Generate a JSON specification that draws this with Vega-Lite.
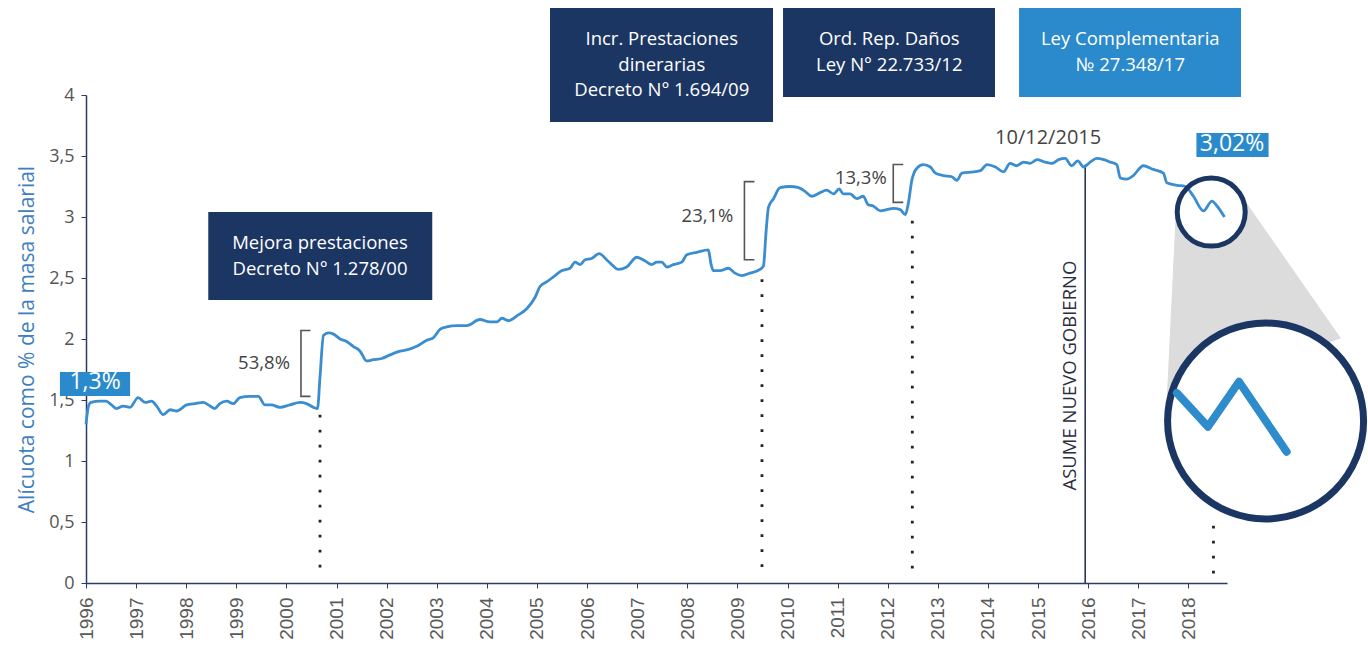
{
  "$schema": "https://vega.github.io/schema/vega-lite/v6.json",
  "width": 1141,
  "height": 488,
  "autosize": {"type": "none"},
  "padding": {"left": 86, "top": 95, "right": 141, "bottom": 70},
  "background": "white",
  "config": {
    "view": {"stroke": null},
    "font": "Open Sans",
    "text": {"font": "Open Sans"}
  },
  "datasets": {
    "serie": [
      {"t": 1996.00, "v": 1.30}, {"t": 1996.05, "v": 1.45}, {"t": 1996.10, "v": 1.48}, {"t": 1996.28, "v": 1.49},
      {"t": 1996.40, "v": 1.49}, {"t": 1996.51, "v": 1.46}, {"t": 1996.61, "v": 1.43}, {"t": 1996.74, "v": 1.45},
      {"t": 1996.88, "v": 1.44}, {"t": 1997.04, "v": 1.52}, {"t": 1997.18, "v": 1.48}, {"t": 1997.31, "v": 1.49},
      {"t": 1997.41, "v": 1.45}, {"t": 1997.54, "v": 1.38}, {"t": 1997.68, "v": 1.42}, {"t": 1997.81, "v": 1.41},
      {"t": 1998.01, "v": 1.46}, {"t": 1998.17, "v": 1.47}, {"t": 1998.34, "v": 1.48}, {"t": 1998.44, "v": 1.46},
      {"t": 1998.57, "v": 1.43}, {"t": 1998.67, "v": 1.47}, {"t": 1998.81, "v": 1.49}, {"t": 1998.94, "v": 1.47},
      {"t": 1999.07, "v": 1.52}, {"t": 1999.27, "v": 1.53}, {"t": 1999.44, "v": 1.53}, {"t": 1999.57, "v": 1.46},
      {"t": 1999.70, "v": 1.46}, {"t": 1999.87, "v": 1.44}, {"t": 2000.07, "v": 1.46}, {"t": 2000.27, "v": 1.48},
      {"t": 2000.40, "v": 1.47}, {"t": 2000.54, "v": 1.44}, {"t": 2000.62, "v": 1.43}, {"t": 2000.67, "v": 1.69},
      {"t": 2000.74, "v": 2.03}, {"t": 2000.84, "v": 2.05}, {"t": 2000.94, "v": 2.04}, {"t": 2001.07, "v": 2.00},
      {"t": 2001.20, "v": 1.98}, {"t": 2001.33, "v": 1.94}, {"t": 2001.47, "v": 1.90}, {"t": 2001.60, "v": 1.82},
      {"t": 2001.73, "v": 1.83}, {"t": 2001.90, "v": 1.84}, {"t": 2002.07, "v": 1.87}, {"t": 2002.27, "v": 1.90},
      {"t": 2002.40, "v": 1.91}, {"t": 2002.60, "v": 1.94}, {"t": 2002.80, "v": 1.99}, {"t": 2002.93, "v": 2.01},
      {"t": 2003.07, "v": 2.08}, {"t": 2003.20, "v": 2.10}, {"t": 2003.40, "v": 2.11}, {"t": 2003.60, "v": 2.11},
      {"t": 2003.86, "v": 2.16}, {"t": 2004.06, "v": 2.14}, {"t": 2004.20, "v": 2.14}, {"t": 2004.30, "v": 2.17},
      {"t": 2004.43, "v": 2.15}, {"t": 2004.60, "v": 2.19}, {"t": 2004.80, "v": 2.25}, {"t": 2004.96, "v": 2.34},
      {"t": 2005.06, "v": 2.43}, {"t": 2005.20, "v": 2.47}, {"t": 2005.33, "v": 2.51}, {"t": 2005.49, "v": 2.56},
      {"t": 2005.66, "v": 2.58}, {"t": 2005.76, "v": 2.63}, {"t": 2005.86, "v": 2.61}, {"t": 2005.96, "v": 2.65},
      {"t": 2006.09, "v": 2.66}, {"t": 2006.24, "v": 2.70}, {"t": 2006.39, "v": 2.65}, {"t": 2006.52, "v": 2.60},
      {"t": 2006.62, "v": 2.57}, {"t": 2006.79, "v": 2.59}, {"t": 2006.99, "v": 2.67}, {"t": 2007.16, "v": 2.64},
      {"t": 2007.29, "v": 2.61}, {"t": 2007.39, "v": 2.63}, {"t": 2007.49, "v": 2.63}, {"t": 2007.59, "v": 2.59},
      {"t": 2007.72, "v": 2.61}, {"t": 2007.89, "v": 2.63}, {"t": 2007.99, "v": 2.69}, {"t": 2008.19, "v": 2.71},
      {"t": 2008.42, "v": 2.73}, {"t": 2008.47, "v": 2.62}, {"t": 2008.52, "v": 2.56}, {"t": 2008.65, "v": 2.56},
      {"t": 2008.82, "v": 2.58}, {"t": 2008.95, "v": 2.54}, {"t": 2009.09, "v": 2.52}, {"t": 2009.25, "v": 2.54},
      {"t": 2009.45, "v": 2.57}, {"t": 2009.52, "v": 2.60}, {"t": 2009.57, "v": 2.87}, {"t": 2009.62, "v": 3.08},
      {"t": 2009.72, "v": 3.15}, {"t": 2009.85, "v": 3.24}, {"t": 2010.05, "v": 3.25}, {"t": 2010.22, "v": 3.24},
      {"t": 2010.35, "v": 3.21}, {"t": 2010.48, "v": 3.17}, {"t": 2010.65, "v": 3.20}, {"t": 2010.78, "v": 3.22},
      {"t": 2010.92, "v": 3.19}, {"t": 2011.03, "v": 3.23}, {"t": 2011.11, "v": 3.19}, {"t": 2011.25, "v": 3.19},
      {"t": 2011.38, "v": 3.15}, {"t": 2011.51, "v": 3.17}, {"t": 2011.61, "v": 3.10}, {"t": 2011.71, "v": 3.09},
      {"t": 2011.85, "v": 3.05}, {"t": 2011.98, "v": 3.06}, {"t": 2012.11, "v": 3.07}, {"t": 2012.25, "v": 3.06},
      {"t": 2012.35, "v": 3.02}, {"t": 2012.41, "v": 3.11}, {"t": 2012.48, "v": 3.30}, {"t": 2012.58, "v": 3.40},
      {"t": 2012.71, "v": 3.43}, {"t": 2012.85, "v": 3.41}, {"t": 2012.95, "v": 3.36}, {"t": 2013.11, "v": 3.34},
      {"t": 2013.28, "v": 3.33}, {"t": 2013.38, "v": 3.30}, {"t": 2013.48, "v": 3.36}, {"t": 2013.71, "v": 3.37},
      {"t": 2013.85, "v": 3.38}, {"t": 2013.98, "v": 3.43}, {"t": 2014.15, "v": 3.41}, {"t": 2014.31, "v": 3.37},
      {"t": 2014.44, "v": 3.44}, {"t": 2014.57, "v": 3.42}, {"t": 2014.71, "v": 3.45}, {"t": 2014.84, "v": 3.44},
      {"t": 2014.98, "v": 3.47}, {"t": 2015.14, "v": 3.45}, {"t": 2015.28, "v": 3.44}, {"t": 2015.41, "v": 3.47},
      {"t": 2015.54, "v": 3.48}, {"t": 2015.67, "v": 3.42}, {"t": 2015.79, "v": 3.46}, {"t": 2015.91, "v": 3.41},
      {"t": 2016.04, "v": 3.45}, {"t": 2016.17, "v": 3.48}, {"t": 2016.31, "v": 3.47}, {"t": 2016.44, "v": 3.45},
      {"t": 2016.57, "v": 3.43}, {"t": 2016.64, "v": 3.32}, {"t": 2016.77, "v": 3.31}, {"t": 2016.90, "v": 3.34},
      {"t": 2017.10, "v": 3.42}, {"t": 2017.30, "v": 3.39}, {"t": 2017.50, "v": 3.36}, {"t": 2017.57, "v": 3.28},
      {"t": 2017.77, "v": 3.26}, {"t": 2017.94, "v": 3.25}, {"t": 2018.10, "v": 3.17}, {"t": 2018.30, "v": 3.05},
      {"t": 2018.47, "v": 3.13}, {"t": 2018.57, "v": 3.09}, {"t": 2018.72, "v": 3.00}
    ],
    "zoomline": [
      {"t": 2017.77, "v": 1.557}, {"t": 2018.39, "v": 1.281}, {"t": 2019.01, "v": 1.650}, {"t": 2019.96, "v": 1.076}
    ],
    "cone": [
      {"i": 1, "t": 2017.756, "v": 3.016}, {"i": 2, "t": 2017.577, "v": 1.5},
      {"i": 3, "t": 2021.03, "v": 2.008}, {"i": 4, "t": 2019.11, "v": 3.139}
    ],
    "smallcircle": [{"t": 2018.455, "v": 3.04}],
    "bigcircle": [{"t": 2019.54, "v": 1.328}],
    "dotted": [
      {"t": 2000.67, "v": 1.38, "v2": 0.05},
      {"t": 2009.49, "v": 2.49, "v2": 0.05},
      {"t": 2012.49, "v": 2.97, "v2": 0.05},
      {"t": 2018.50, "v": 0.47, "v2": 0.05}
    ],
    "gobierno": [{"t": 2015.94, "v": 0, "v2": 3.43}],
    "brackets": [
      {"g": "a", "i": 1, "t": 2000.48, "v": 2.07}, {"g": "a", "i": 2, "t": 2000.29, "v": 2.07},
      {"g": "a", "i": 3, "t": 2000.29, "v": 1.53}, {"g": "a", "i": 4, "t": 2000.48, "v": 1.53},
      {"g": "b", "i": 1, "t": 2009.34, "v": 3.29}, {"g": "b", "i": 2, "t": 2009.14, "v": 3.29},
      {"g": "b", "i": 3, "t": 2009.14, "v": 2.65}, {"g": "b", "i": 4, "t": 2009.34, "v": 2.65},
      {"g": "c", "i": 1, "t": 2012.31, "v": 3.43}, {"g": "c", "i": 2, "t": 2012.11, "v": 3.43},
      {"g": "c", "i": 3, "t": 2012.11, "v": 3.12}, {"g": "c", "i": 4, "t": 2012.31, "v": 3.12}
    ],
    "navyboxes": [
      {"t": 2005.26, "t2": 2009.71, "v": 4.713, "v2": 3.779},
      {"t": 2009.91, "t2": 2014.14, "v": 4.713, "v2": 3.984},
      {"t": 1998.44, "t2": 2002.91, "v": 3.041, "v2": 2.320}
    ],
    "blueboxes": [
      {"t": 2014.62, "t2": 2019.05, "v": 4.713, "v2": 3.984},
      {"t": 1995.48, "t2": 1996.88, "v": 1.730, "v2": 1.533},
      {"t": 2018.16, "t2": 2019.60, "v": 3.689, "v2": 3.492}
    ],
    "boxtext": [
      {"t": 2007.49, "v": 4.46, "label": "Incr. Prestaciones"},
      {"t": 2007.49, "v": 4.25, "label": "dinerarias"},
      {"t": 2007.49, "v": 4.04, "label": "Decreto N° 1.694/09"},
      {"t": 2012.03, "v": 4.455, "label": "Ord. Rep. Daños"},
      {"t": 2012.03, "v": 4.245, "label": "Ley N° 22.733/12"},
      {"t": 2016.84, "v": 4.455, "label": "Ley Complementaria"},
      {"t": 2016.84, "v": 4.245, "label": "№ 27.348/17"},
      {"t": 2000.67, "v": 2.79, "label": "Mejora prestaciones"},
      {"t": 2000.67, "v": 2.575, "label": "Decreto N° 1.278/00"}
    ],
    "badges": [
      {"t": 1996.18, "v": 1.645, "label": "1,3%"},
      {"t": 2018.87, "v": 3.60, "label": "3,02%"}
    ],
    "pct": [
      {"t": 2000.07, "v": 1.80, "label": "53,8%"},
      {"t": 2008.92, "v": 3.01, "label": "23,1%"},
      {"t": 2011.98, "v": 3.32, "label": "13,3%"}
    ],
    "fecha": [{"t": 2015.2, "v": 3.65, "label": "10/12/2015"}],
    "asume": [{"t": 2015.94, "v": 1.70, "label": "ASUME NUEVO GOBIERNO"}]
  },
  "layer": [
    {
      "data": {"name": "cone"},
      "mark": {"type": "line", "fill": "#dcdcdc", "stroke": "#dcdcdc", "strokeWidth": 1, "interpolate": "linear-closed"},
      "encoding": {
        "x": {"field": "t", "type": "quantitative", "scale": {"domain": [1996, 2018.77], "nice": false, "zero": false},
          "axis": {
            "values": [1996,1997,1998,1999,2000,2001,2002,2003,2004,2005,2006,2007,2008,2009,2010,2011,2012,2013,2014,2015,2016,2017,2018],
            "format": "d", "labelAngle": -90, "title": null, "grid": false,
            "domainColor": "#2b3a67", "domainWidth": 1.5, "tickColor": "#2b3a67", "tickSize": 5,
            "labelFont": "Liberation Sans", "labelFontSize": 19, "labelColor": "#5a5a5a", "labelPadding": 9
          }},
        "y": {"field": "v", "type": "quantitative", "scale": {"domain": [0, 4], "nice": false},
          "axis": {
            "values": [0, 0.5, 1, 1.5, 2, 2.5, 3, 3.5, 4],
            "labelExpr": "replace(format(datum.value, '~g'), '.', ',')",
            "title": "Alícuota como % de la masa salarial", "titleFontSize": 21, "titleFont": "Open Sans",
            "titleFontWeight": "normal", "titleColor": "#3f7fbf", "titlePadding": 11,
            "grid": false, "domainColor": "#2b3a67", "domainWidth": 1.5, "tickColor": "#2b3a67", "tickSize": 5,
            "labelFont": "Open Sans", "labelFontSize": 18, "labelColor": "#555555", "labelPadding": 7
          }},
        "order": {"field": "i", "type": "quantitative"}
      }
    },
    {
      "data": {"name": "smallcircle"},
      "mark": {"type": "point", "shape": "circle", "filled": true, "fill": "white", "opacity": 1, "size": 4624, "strokeWidth": 0},
      "encoding": {"x": {"field": "t", "type": "quantitative"}, "y": {"field": "v", "type": "quantitative"}}
    },
    {
      "data": {"name": "dotted"},
      "mark": {"type": "rule", "color": "#222222", "strokeWidth": 2.8, "strokeDash": [2.8, 12.2]},
      "encoding": {"x": {"field": "t", "type": "quantitative"}, "y": {"field": "v", "type": "quantitative"}, "y2": {"field": "v2"}}
    },
    {
      "data": {"name": "gobierno"},
      "mark": {"type": "rule", "color": "#1c2a4a", "strokeWidth": 1.5},
      "encoding": {"x": {"field": "t", "type": "quantitative"}, "y": {"field": "v", "type": "quantitative"}, "y2": {"field": "v2"}}
    },
    {
      "data": {"name": "brackets"},
      "mark": {"type": "line", "color": "#555555", "strokeWidth": 1.6},
      "encoding": {
        "x": {"field": "t", "type": "quantitative"}, "y": {"field": "v", "type": "quantitative"},
        "detail": {"field": "g"}, "order": {"field": "i", "type": "quantitative"}
      }
    },
    {
      "data": {"name": "serie"},
      "mark": {"type": "line", "color": "#3a8dd0", "strokeWidth": 2.8, "interpolate": "monotone"},
      "encoding": {"x": {"field": "t", "type": "quantitative"}, "y": {"field": "v", "type": "quantitative"}}
    },
    {
      "data": {"name": "smallcircle"},
      "mark": {"type": "point", "shape": "circle", "filled": false, "opacity": 1, "size": 4624, "stroke": "#1c3664", "strokeWidth": 5},
      "encoding": {"x": {"field": "t", "type": "quantitative"}, "y": {"field": "v", "type": "quantitative"}}
    },
    {
      "data": {"name": "bigcircle"},
      "mark": {"type": "point", "shape": "circle", "filled": true, "fill": "white", "opacity": 1, "size": 38416, "stroke": "#1c3664", "strokeWidth": 7},
      "encoding": {"x": {"field": "t", "type": "quantitative"}, "y": {"field": "v", "type": "quantitative"}}
    },
    {
      "data": {"name": "zoomline"},
      "mark": {"type": "line", "color": "#2f8ccc", "strokeWidth": 8, "strokeCap": "round", "strokeJoin": "round"},
      "encoding": {"x": {"field": "t", "type": "quantitative"}, "y": {"field": "v", "type": "quantitative"}}
    },
    {
      "data": {"name": "navyboxes"},
      "mark": {"type": "rect", "color": "#1c3664"},
      "encoding": {"x": {"field": "t", "type": "quantitative"}, "x2": {"field": "t2"}, "y": {"field": "v", "type": "quantitative"}, "y2": {"field": "v2"}}
    },
    {
      "data": {"name": "blueboxes"},
      "mark": {"type": "rect", "color": "#2b8acb"},
      "encoding": {"x": {"field": "t", "type": "quantitative"}, "x2": {"field": "t2"}, "y": {"field": "v", "type": "quantitative"}, "y2": {"field": "v2"}}
    },
    {
      "data": {"name": "boxtext"},
      "mark": {"type": "text", "color": "white", "fontSize": 18.5, "align": "center", "baseline": "middle"},
      "encoding": {"x": {"field": "t", "type": "quantitative"}, "y": {"field": "v", "type": "quantitative"}, "text": {"field": "label"}}
    },
    {
      "data": {"name": "badges"},
      "mark": {"type": "text", "color": "white", "fontSize": 23, "align": "center", "baseline": "middle"},
      "encoding": {"x": {"field": "t", "type": "quantitative"}, "y": {"field": "v", "type": "quantitative"}, "text": {"field": "label"}}
    },
    {
      "data": {"name": "pct"},
      "mark": {"type": "text", "color": "#444444", "fontSize": 18.5, "align": "right", "baseline": "middle"},
      "encoding": {"x": {"field": "t", "type": "quantitative"}, "y": {"field": "v", "type": "quantitative"}, "text": {"field": "label"}}
    },
    {
      "data": {"name": "fecha"},
      "mark": {"type": "text", "color": "#444444", "fontSize": 20, "align": "center", "baseline": "middle"},
      "encoding": {"x": {"field": "t", "type": "quantitative"}, "y": {"field": "v", "type": "quantitative"}, "text": {"field": "label"}}
    },
    {
      "data": {"name": "asume"},
      "mark": {"type": "text", "color": "#2a2e3e", "fontSize": 18.5, "align": "center", "baseline": "bottom", "angle": 270, "dy": -5},
      "encoding": {"x": {"field": "t", "type": "quantitative"}, "y": {"field": "v", "type": "quantitative"}, "text": {"field": "label"}}
    }
  ]
}
